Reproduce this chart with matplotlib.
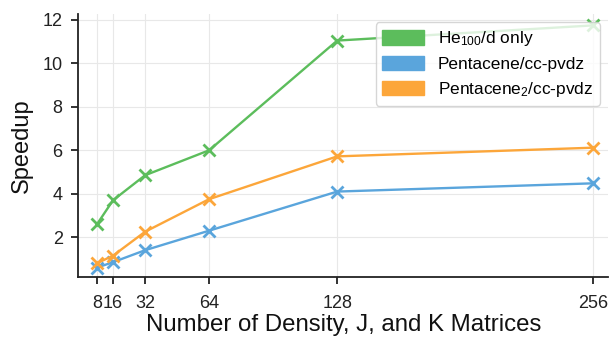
import matplotlib
matplotlib.use("Agg")
import matplotlib.pyplot as plt
from matplotlib.patches import Patch

plt.rcParams['font.family'] = ['Liberation Sans', 'DejaVu Sans']
plt.rcParams['mathtext.default'] = 'regular'

x_vals = [8, 16, 32, 64, 128, 256]
he100 = [2.6, 3.7, 4.85, 6.0, 11.05, 11.75]
pent = [0.6, 0.85, 1.4, 2.3, 4.1, 4.48]
pent2 = [0.8, 1.15, 2.25, 3.75, 5.72, 6.12]

labels = ["He$_{100}$/d only", "Pentacene/cc-pvdz", "Pentacene$_2$/cc-pvdz"]
colors = ["#5cbd5c", "#5aa5dc", "#fca63a"]
series = [he100, pent, pent2]

fig = plt.figure(figsize=(6.11, 3.38), dpi=100)
ax = fig.add_axes([0.1277, 0.180, 0.868, 0.779])

for ys, c in zip(series, colors):
    ax.plot(x_vals, ys, color=c, marker='x', markersize=9, markeredgewidth=2,
            linewidth=1.7)

ax.set_xlim(-1.5, 263.5)
ax.set_ylim(0.16, 12.28)
ax.set_xticks(x_vals)
ax.set_xticklabels([str(v) for v in x_vals])
ax.set_yticks([2, 4, 6, 8, 10, 12])
ax.grid(True, color='#e8e8e8', linewidth=0.8)
ax.set_axisbelow(True)
for s in ['top', 'right']:
    ax.spines[s].set_visible(False)
for s in ['left', 'bottom']:
    ax.spines[s].set_color('#222222')
    ax.spines[s].set_linewidth(1.3)
ax.tick_params(axis='both', labelsize=13, length=5, width=1.3, color='#222222',
               labelcolor='#222222')
ax.tick_params(axis='x', pad=8)
ax.tick_params(axis='y', pad=6)
ax.set_xlabel("Number of Density, J, and K Matrices", fontsize=17.3, color='#111111', labelpad=1.5)
ax.set_ylabel("Speedup", fontsize=17, color='#111111', labelpad=7)

handles = [Patch(facecolor=c, edgecolor=c, label=l) for c, l in zip(colors, labels)]
leg = ax.legend(handles=handles, loc='upper right', fontsize=12.4, handlelength=2.4,
                handleheight=0.9, frameon=True, framealpha=0.8, edgecolor='#cccccc',
                borderaxespad=0.5, labelspacing=0.45)

fig.savefig("out.png", dpi=100)
